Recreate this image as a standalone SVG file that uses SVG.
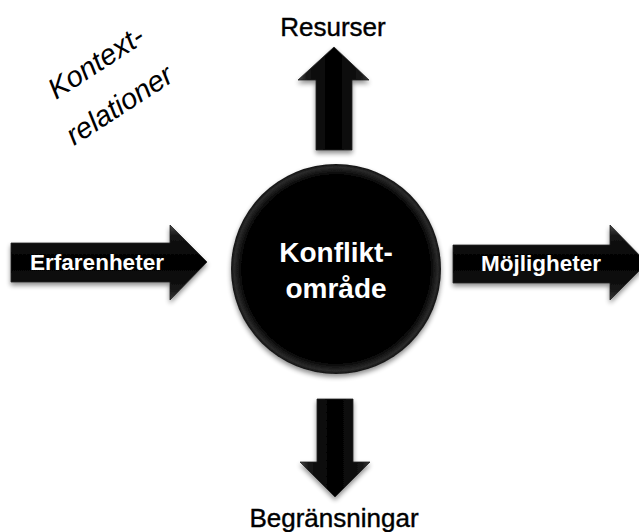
<svg xmlns="http://www.w3.org/2000/svg" width="639" height="532" viewBox="0 0 639 532">
  <defs>
    <filter id="shadow" x="-20%" y="-20%" width="140%" height="140%">
      <feGaussianBlur in="SourceAlpha" stdDeviation="2.5"/>
      <feOffset dx="0" dy="3" result="b"/>
      <feComponentTransfer><feFuncA type="linear" slope="0.45"/></feComponentTransfer>
      <feMerge><feMergeNode/><feMergeNode in="SourceGraphic"/></feMerge>
    </filter>
    <linearGradient id="gv" x1="0" y1="0" x2="1" y2="0">
      <stop offset="0" stop-color="#4a4a4a"/>
      <stop offset="0.12" stop-color="#151515"/>
      <stop offset="0.5" stop-color="#000"/>
      <stop offset="0.88" stop-color="#151515"/>
      <stop offset="1" stop-color="#3a3a3a"/>
    </linearGradient>
    <linearGradient id="gh" x1="0" y1="0" x2="0" y2="1">
      <stop offset="0" stop-color="#4a4a4a"/>
      <stop offset="0.15" stop-color="#151515"/>
      <stop offset="0.5" stop-color="#000"/>
      <stop offset="0.85" stop-color="#151515"/>
      <stop offset="1" stop-color="#3a3a3a"/>
    </linearGradient>
    <radialGradient id="gc" cx="0.5" cy="0.5" r="0.5">
      <stop offset="0" stop-color="#000"/>
      <stop offset="0.9" stop-color="#050505"/>
      <stop offset="0.97" stop-color="#2a2a2a"/>
      <stop offset="1" stop-color="#111"/>
    </radialGradient>
  </defs>
  <style>
    .arrow-v { fill: url(#gv); stroke: #222; stroke-width: 0.8; filter: url(#shadow); }
    .arrow-h { fill: url(#gh); stroke: #222; stroke-width: 0.8; filter: url(#shadow); }
    .lbl { font-family: "Liberation Sans", Arial, sans-serif; fill: #000; stroke: #000; stroke-width: 0.4; font-size: 26px; text-anchor: middle; }
    .in { font-family: "Liberation Sans", Arial, sans-serif; fill: #fff; font-weight: bold; font-size: 22.5px; text-anchor: middle; }
    .center { font-family: "Liberation Sans", Arial, sans-serif; fill: #fff; font-weight: bold; font-size: 28px; text-anchor: middle; }
    .ctx { font-family: "Liberation Sans", Arial, sans-serif; font-style: italic; fill: #000; font-size: 29px; }
  </style>

  <g id="kontextrelationer">
    <text class="ctx" transform="translate(56,100) rotate(-33)">Kontext-</text>
    <text class="ctx" transform="translate(74,146) rotate(-33)">relationer</text>
  </g>

  <g id="connectors">
    <g id="arrow-resurser">
      <polygon class="arrow-v" points="334,47 369,80 352,80 352,150 316,150 316,80 298,80"/>
    </g>
    <g id="arrow-begransningar">
      <polygon class="arrow-v" points="317,399 353,399 353,462 370,462 335,497 300,462 317,462"/>
    </g>
    <g id="arrow-erfarenheter">
      <polygon class="arrow-h" points="11,243 170,243 170,225 207,262 170,300 170,282 11,282"/>
      <text class="in" x="97" y="270">Erfarenheter</text>
    </g>
    <g id="arrow-mojligheter">
      <polygon class="arrow-h" points="453,245 610,245 610,225 647,263 610,300 610,283 453,283"/>
      <text class="in" x="541" y="271">Möjligheter</text>
    </g>
  </g>

  <g id="konfliktomrade">
    <circle cx="336" cy="269" r="105" fill="url(#gc)" filter="url(#shadow)"/>
    <text class="center" x="336" y="262">Konflikt-</text>
    <text class="center" x="336" y="298">område</text>
  </g>

  <g id="resurser">
    <text class="lbl" x="333" y="36">Resurser</text>
  </g>
  <g id="begransningar">
    <text class="lbl" x="334" y="527">Begränsningar</text>
  </g>
</svg>
